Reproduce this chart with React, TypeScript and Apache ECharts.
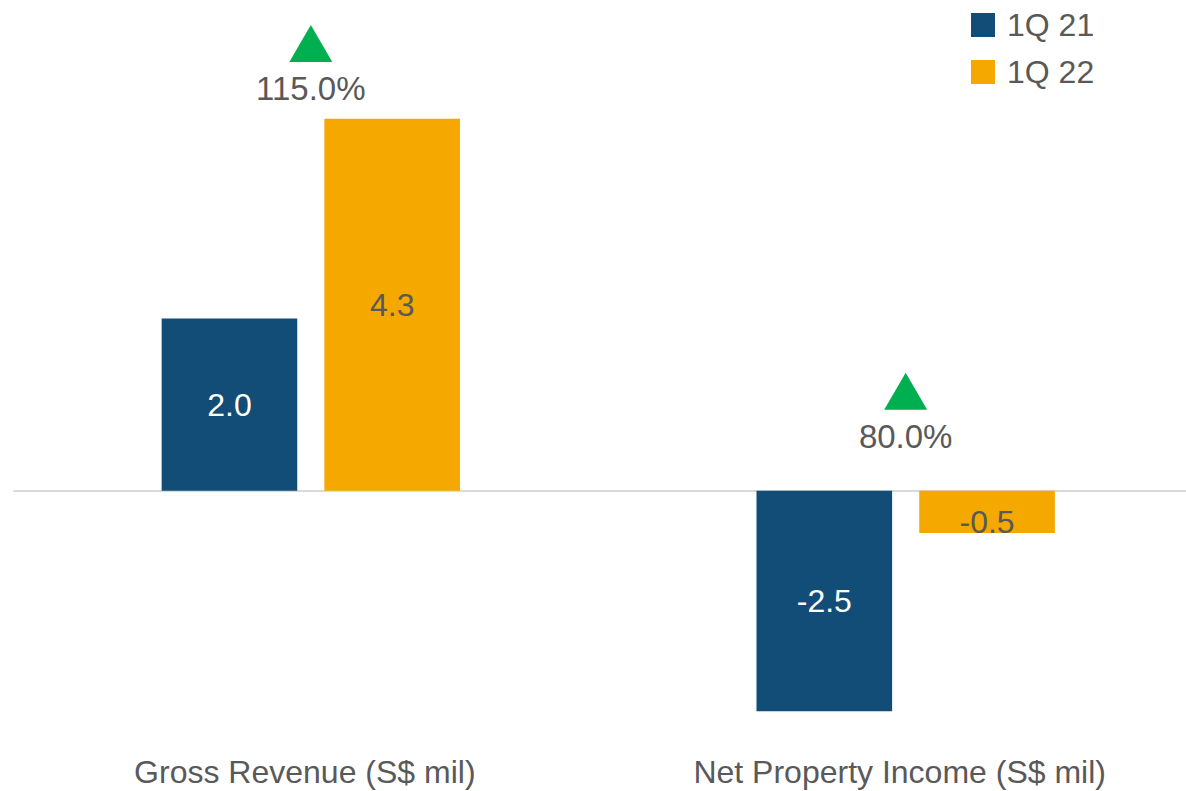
import React, { useEffect, useRef } from "react";
import * as echarts from "echarts";

const categories = ["Gross Revenue (S$ mil)", "Net Property Income (S$ mil)"];
const seriesNames = ["1Q 21", "1Q 22"];
const values1Q21 = [1.99, -2.55];
const values1Q22 = [4.3, -0.49];
const growthPct = [115.0, 80.0];
const growthMarkerY = [5.17, 1.15];

const BLUE = "#114D76";
const ORANGE = "#F5A800";
const GREEN = "#00B050";
const GREY = "#595959";
const FONT = "'Liberation Sans', Arial, sans-serif";

const fmt = (v: number) => (Math.round(v * 10) / 10).toFixed(1);

export default function App() {
  const ref = useRef<HTMLDivElement>(null);

  useEffect(() => {
    if (!ref.current) return;
    const chart = echarts.init(ref.current, undefined, { renderer: "svg" });

    const barLabel = (color: string) => ({
      show: true,
      position: "inside",
      color,
      fontSize: 32,
      fontFamily: FONT,
      formatter: (p: any) => fmt(p.value),
    });

    chart.setOption({
      animation: false,
      textStyle: { fontFamily: FONT },
      grid: {
        left: 13.4,
        width: 1189.7,
        top: 58.2,
        bottom: 40.8,
        containLabel: false,
        outerBoundsMode: "none",
      },
      legend: {
        orient: "vertical",
        left: 971,
        top: 9,
        padding: 0,
        itemWidth: 24,
        itemHeight: 24,
        itemGap: 15,
        icon: "rect",
        data: seriesNames,
        textStyle: { color: GREY, fontSize: 32, fontFamily: FONT, padding: [0, 0, 0, 7] },
      },
      xAxis: {
        type: "category",
        data: categories,
        axisLine: { show: false, onZero: false },
        axisTick: { show: false },
        axisLabel: {
          color: GREY,
          fontSize: 32,
          fontFamily: FONT,
          margin: 6,
          interval: 0,
          padding: [0, 12, 0, 0],
        },
      },
      yAxis: {
        type: "value",
        min: -3,
        max: 5,
        show: false,
        splitLine: { show: false },
      },
      series: [
        {
          name: seriesNames[0],
          type: "bar",
          data: values1Q21,
          barWidth: "22.8%",
          barGap: "20%",
          itemStyle: { color: BLUE },
          label: barLabel("#FFFFFF"),
          markLine: {
            silent: true,
            symbol: "none",
            label: { show: false },
            lineStyle: { color: "#D9D9D9", width: 2, type: "solid" },
            data: [{ yAxis: 0 }],
            z: 1,
          },
        },
        {
          name: seriesNames[1],
          type: "bar",
          data: values1Q22.map((v) =>
            v < 0 && v > -1 ? { value: v, label: { offset: [0, 10] } } : v
          ),
          barWidth: "22.8%",
          barGap: "20%",
          itemStyle: { color: ORANGE },
          label: barLabel(GREY),
        },
        {
          name: "growth",
          type: "scatter",
          data: growthMarkerY,
          symbol: "triangle",
          symbolSize: [43, 37],
          clip: false,
          itemStyle: { color: GREEN, opacity: 1 },
          label: {
            show: true,
            position: "inside",
            offset: [0, 45],
            color: GREY,
            opacity: 1,
            fontSize: 33,
            fontFamily: FONT,
            formatter: (p: any) => growthPct[p.dataIndex].toFixed(1) + "%",
          },
          z: 5,
        },
      ],
    });

    return () => chart.dispose();
  }, []);

  return (
    <div
      ref={ref}
      style={{ position: "absolute", left: 0, top: 0, width: 1186, height: 791 }}
    />
  );
}
